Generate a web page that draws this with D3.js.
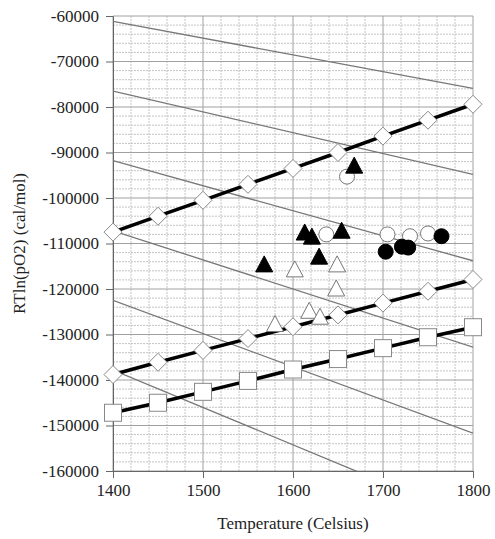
<!DOCTYPE html>
<html>
<head>
<meta charset="utf-8">
<script src="https://cdn.jsdelivr.net/npm/d3@7"></script>
<style>
  html, body { margin: 0; padding: 0; background: #fff; }
  svg text { font-family: "Liberation Serif", "Times New Roman", serif; fill: #222; }
</style>
</head>
<body>
<div id="chart"></div>
<script>
/* ── data ── */
const temps = [1400, 1450, 1500, 1550, 1600, 1650, 1700, 1750, 1800];
const diamondUpper = [-107500, -104000, -100500, -97000, -93500, -90000, -86400, -82900, -79400];
const diamondLower = [-138800, -136100, -133500, -130900, -128300, -125700, -123100, -120500, -117900];
const squareVals   = [-147200, -145000, -142600, -140200, -137700, -135400, -133000, -130600, -128400];

// thin reference lines: value at 1400 and at 1800
const isoStart = [-61200, -76500, -91800, -107200, -122500, -137800];
const isoEnd   = [-75900, -94800, -113800, -132800, -151700, -170700];

const filledTriangles = [[1668, -93000], [1613, -107700], [1621, -108600], [1654, -107300], [1629, -113000], [1568, -114700]];
const openTriangles   = [[1602, -115800], [1649, -114700], [1648, -120000], [1618, -124900], [1630, -126200], [1580, -127800]];
const openCircles     = [[1660, -95300], [1637, -108000], [1705, -108000], [1730, -108400], [1750, -107800]];
const filledCircles   = [[1765, -108400], [1703, -111800], [1721, -110700], [1728, -110900]];

const xTicks = [1400, 1500, 1600, 1700, 1800];
const yTicks = d3.range(-160000, -59999, 10000);

/* ── layout ── */
const W = 495, H = 539;
const M = { top: 16, right: 22, bottom: 68, left: 113 };
const iw = W - M.left - M.right, ih = H - M.top - M.bottom;

const x = d3.scaleLinear().domain([1400, 1800]).range([0, iw]);
const y = d3.scaleLinear().domain([-160000, -60000]).range([ih, 0]);

const svg = d3.select('#chart').append('svg').attr('width', W).attr('height', H);
const g = svg.append('g').attr('transform', `translate(${M.left},${M.top})`);

svg.append('defs').append('clipPath').attr('id', 'plot')
  .append('rect').attr('width', iw).attr('height', ih);

/* grid: minor dashed, major solid */
const grid = g.append('g');
grid.selectAll('.vmin').data(d3.range(1400, 1801, 20).filter(v => v % 100)).join('line')
  .attr('x1', d => x(d)).attr('x2', d => x(d)).attr('y1', 0).attr('y2', ih)
  .attr('stroke', '#c4c4c4').attr('stroke-dasharray', '2,1');
grid.selectAll('.hmin').data(d3.range(-160000, -59999, 2000).filter(v => v % 10000)).join('line')
  .attr('y1', d => y(d)).attr('y2', d => y(d)).attr('x1', 0).attr('x2', iw)
  .attr('stroke', '#c4c4c4').attr('stroke-dasharray', '2,1');
grid.selectAll('.vmaj').data(xTicks).join('line')
  .attr('x1', d => x(d)).attr('x2', d => x(d)).attr('y1', 0).attr('y2', ih)
  .attr('stroke', '#a0a0a0');
grid.selectAll('.hmaj').data(yTicks).join('line')
  .attr('y1', d => y(d)).attr('y2', d => y(d)).attr('x1', 0).attr('x2', iw)
  .attr('stroke', '#a0a0a0');

/* axes (plain hyphen for the minus sign, as in the original) */
const fmt = d => String(d);
const styleAxis = a => {
  a.attr('font-family', null);
  a.select('.domain').attr('stroke', '#666');
  a.selectAll('line').attr('stroke', '#666');
  a.selectAll('text').attr('font-size', 17).attr('fill', '#222')
    .attr('font-family', '"Liberation Serif", "Times New Roman", serif');
};

g.append('g').attr('transform', `translate(0,${ih})`)
  .call(d3.axisBottom(x).tickValues(xTicks).tickSize(7).tickPadding(6).tickFormat(fmt))
  .call(styleAxis);

g.append('g')
  .call(d3.axisLeft(y).tickValues(yTicks).tickSize(7).tickPadding(7).tickFormat(fmt))
  .call(styleAxis);

/* axis titles */
svg.append('text').attr('x', M.left + iw / 2).attr('y', 529)
  .attr('text-anchor', 'middle').attr('font-size', 17).text('Temperature (Celsius)');
svg.append('text').attr('transform', `translate(25,${M.top + ih / 2}) rotate(-90)`)
  .attr('text-anchor', 'middle').attr('font-size', 17).text('RTln(pO2) (cal/mol)');

/* thin reference lines */
const plot = g.append('g').attr('clip-path', 'url(#plot)');
plot.selectAll('.iso').data(isoStart.map((s, i) => [s, isoEnd[i]])).join('line')
  .attr('x1', x(1400)).attr('x2', x(1800))
  .attr('y1', d => y(d[0])).attr('y2', d => y(d[1]))
  .attr('stroke', '#777').attr('stroke-width', 1.3);

/* thick series lines */
const line = d3.line().x((d, i) => x(temps[i])).y(d => y(d));
[diamondUpper, diamondLower, squareVals].forEach(vals => {
  g.append('path').datum(vals).attr('d', line)
    .attr('fill', 'none').attr('stroke', '#000').attr('stroke-width', 3.5);
});

/* diamonds and squares */
const diamond = 'M0,-9L9,0L0,9L-9,0Z';
[diamondUpper, diamondLower].forEach(vals => {
  g.append('g').selectAll('path').data(vals).join('path')
    .attr('d', diamond)
    .attr('transform', (d, i) => `translate(${x(temps[i])},${y(d)})`)
    .attr('fill', '#fff').attr('stroke', '#888').attr('stroke-width', 1);
});
g.append('g').selectAll('rect').data(squareVals).join('rect')
  .attr('x', (d, i) => x(temps[i]) - 8.5).attr('y', d => y(d) - 8.5)
  .attr('width', 17).attr('height', 17)
  .attr('fill', '#fff').attr('stroke', '#888').attr('stroke-width', 1);

/* scattered measurements */
const tri = 'M0,-9L8.5,7L-8.5,7Z';
function triangles(data, fill, stroke) {
  g.append('g').selectAll('path').data(data).join('path')
    .attr('d', tri)
    .attr('transform', d => `translate(${x(d[0])},${y(d[1])})`)
    .attr('fill', fill).attr('stroke', stroke);
}
function circles(data, fill, stroke) {
  g.append('g').selectAll('circle').data(data).join('circle')
    .attr('cx', d => x(d[0])).attr('cy', d => y(d[1])).attr('r', 7.5)
    .attr('fill', fill).attr('stroke', stroke);
}
triangles(openTriangles, '#fff', '#777');
circles(openCircles, '#fff', '#777');
circles(filledCircles, '#000', '#000');
triangles(filledTriangles, '#000', '#000');
</script>
</body>
</html>
